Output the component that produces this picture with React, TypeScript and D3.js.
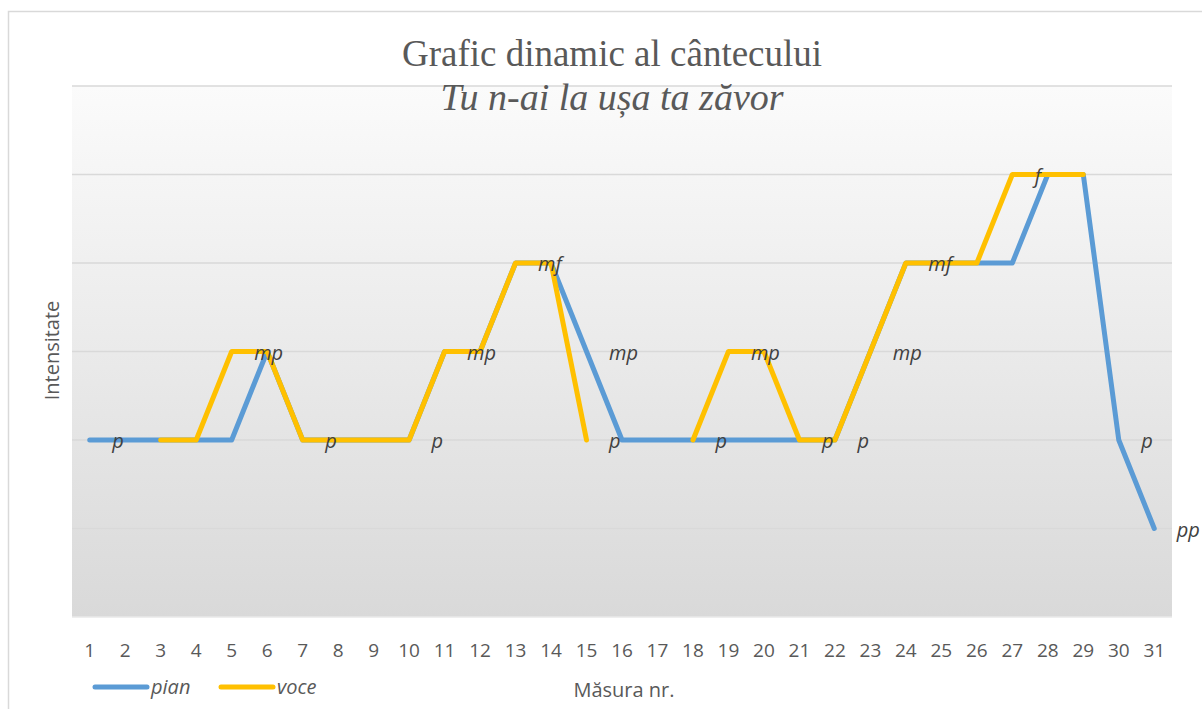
import React from "react";
import * as d3 from "d3";

const measures: number[] = d3.range(1, 32);
const pian: (number | null)[] = [2, 2, 2, 2, 2, 3, 2, 2, 2, 2, 3, 3, 4, 4, 3, 2, 2, 2, 2, 2, 2, 2, 3, 4, 4, 4, 4, 5, 5, 2, 1];
const voce: (number | null)[] = [null, null, 2, 2, 3, 3, 2, 2, 2, 2, 3, 3, 4, 4, 2, null, null, 2, 3, 3, 2, 2, 3, 4, 4, 4, 5, 5, 5, null, null];
const gridLevels: number[] = [1, 2, 3, 4, 5, 6];
// dynamic-marking labels: [measure position, level, text]
const labelMeasure: number[] = [2, 6, 8, 11, 12, 14, 16, 16, 19, 20, 22, 23, 24, 25, 28, 31, 32];
const labelLevel: number[] = [2, 3, 2, 2, 3, 4, 3, 2, 2, 3, 2, 2, 3, 4, 5, 2, 1];
const labelText: string[] = ["p", "mp", "p", "p", "mp", "mf", "mp", "p", "p", "mp", "p", "p", "mp", "mf", "f", "p", "pp"];
const seriesNames: string[] = ["pian", "voce"];
const seriesColors: string[] = ["#5B9BD5", "#FFC000"];
const title = "Grafic dinamic al cântecului";
const subtitle = "Tu n-ai la ușa ta zăvor";
const yTitle = "Intensitate";
const xTitle = "Măsura nr.";

export default function App() {
  const W = 1202, H = 709;
  const left = 72, right = 1172, top = 86, bottom = 617;
  const x = d3.scaleLinear().domain([0.5, measures.length + 0.5]).range([left, right]);
  const y = d3.scaleLinear().domain([0, 6]).range([bottom, top]);
  const line = d3
    .line<number | null>()
    .defined((d) => d !== null)
    .x((_, i) => x(measures[i]))
    .y((d) => y(d as number));
  const sans = "'Open Sans', sans-serif";
  const serif = "'Liberation Serif', 'Times New Roman', serif";
  const series = [pian, voce];
  return (
    <svg width={W} height={H} style={{ position: "absolute", left: 0, top: 0 }}>
      <defs>
        <linearGradient id="plotbg" x1="0" y1="0" x2="0" y2="1">
          <stop offset="0" stopColor="#fbfbfb" />
          <stop offset="1" stopColor="#d9d9d9" />
        </linearGradient>
      </defs>
      <rect x={0} y={0} width={W} height={H} fill="#fff" />
      <rect x={8.5} y={11.5} width={W + 20} height={H + 20} fill="#fff" stroke="#d9d9d9" strokeWidth={1.5} />
      <rect x={left} y={top} width={right - left} height={bottom - top} fill="url(#plotbg)" />
      {gridLevels.map((g) => (
        <line key={g} x1={left} x2={right} y1={y(g)} y2={y(g)} stroke="#d9d9d9" strokeWidth={1.5} />
      ))}
      <line x1={left} x2={right} y1={bottom} y2={bottom} stroke="#e8e8e8" strokeWidth={1.5} />
      {series.map((s, i) => (
        <path
          key={i}
          d={line(s) || ""}
          fill="none"
          stroke={seriesColors[i]}
          strokeWidth={5}
          strokeLinecap="round"
          strokeLinejoin="round"
        />
      ))}
      {labelText.map((t, i) => (
        <text
          key={i}
          x={x(labelMeasure[i]) - 13}
          y={y(labelLevel[i]) + 8}
          fontFamily={sans}
          fontStyle="italic"
          fontSize={20}
          fill="#404040"
        >
          {t}
        </text>
      ))}
      {measures.map((m) => (
        <text key={m} x={x(m)} y={657} textAnchor="middle" fontFamily={sans} fontSize={19} fill="#595959">
          {m}
        </text>
      ))}
      <text x={612} y={66} textAnchor="middle" fontFamily={serif} fontSize={37} fill="#595959">
        {title}
      </text>
      <text x={612} y={110} textAnchor="middle" fontFamily={serif} fontStyle="italic" fontSize={38} fill="#595959">
        {subtitle}
      </text>
      <text
        transform={`translate(59, ${(top + bottom) / 2 - 1}) rotate(-90)`}
        textAnchor="middle"
        fontFamily={sans}
        fontSize={20}
        fill="#595959"
      >
        {yTitle}
      </text>
      <text x={624} y={697} textAnchor="middle" fontFamily={sans} fontSize={20} fill="#595959">
        {xTitle}
      </text>
      {seriesNames.map((n, i) => (
        <g key={n} transform={`translate(${95 + i * 126}, 687)`}>
          <line x1={0} x2={52} y1={0} y2={0} stroke={seriesColors[i]} strokeWidth={5} strokeLinecap="round" />
          <text x={56} y={7} fontFamily={sans} fontStyle="italic" fontSize={20} fill="#595959">
            {n}
          </text>
        </g>
      ))}
    </svg>
  );
}
